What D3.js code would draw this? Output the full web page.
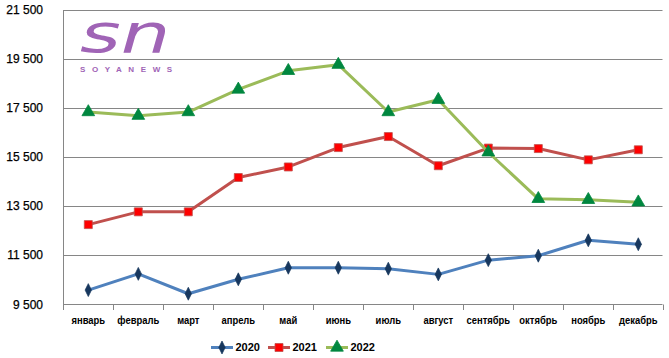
<!DOCTYPE html>
<html><head><meta charset="utf-8">
<script src="https://cdn.jsdelivr.net/npm/d3@7/dist/d3.min.js"></script>
<style>body{margin:0;background:#fff}svg{display:block}</style>
</head><body>
<script>
const months = ["январь","февраль","март","апрель","май","июнь","июль","август","сентябрь","октябрь","ноябрь","декабрь"];
const series2020 = [10080,10740,9930,10520,10990,10990,10950,10720,11300,11480,12110,11950];
const series2021 = [12750,13270,13270,14670,15100,15890,16340,15150,15870,15850,15390,15800];
const series2022 = [17340,17190,17340,18260,19020,19270,17340,17840,15700,13800,13760,13660];
const yTicks = [9500,11500,13500,15500,17500,19500,21500];
const seriesNames = ["2020","2021","2022"];

const W=669,H=358;
const svg=d3.select("body").append("svg").attr("width",W).attr("height",H);
const x=d3.scaleBand().domain(months).range([63.3,663.3]);
const y=d3.scaleLinear().domain([9500,21500]).range([304.3,10]);
const fmt=v=>d3.format(",")(v).replace(",", " ");

// gridlines
svg.append("g").selectAll("line").data(yTicks).join("line")
 .attr("x1",63).attr("x2",662.5).attr("y1",d=>Math.round(y(d))+0.5).attr("y2",d=>Math.round(y(d))+0.5)
 .attr("stroke","#868686").attr("stroke-width",1);
// left axis line
svg.append("line").attr("x1",63.5).attr("x2",63.5).attr("y1",10).attr("y2",305).attr("stroke","#868686");
// y labels
svg.append("g").selectAll("text").data(yTicks).join("text")
 .attr("x",43).attr("y",d=>y(d)).attr("dy","0.35em").attr("text-anchor","end")
 .attr("font-family","Liberation Sans, Arial, sans-serif").attr("font-size",12).attr("fill","#000")
 .attr("stroke","#000").attr("stroke-width",0.25)
 .text(fmt);
// x ticks
const bounds=d3.range(13).map(i=>63.3+i*x.bandwidth());
svg.append("g").selectAll("line").data(bounds).join("line")
 .attr("x1",d=>Math.round(d)+0.5).attr("x2",d=>Math.round(d)+0.5).attr("y1",304.5).attr("y2",310)
 .attr("stroke","#868686");
// x labels (condensed)
svg.append("g").selectAll("text").data(months).join("text")
 .attr("transform",d=>`translate(${x(d)+x.bandwidth()/2},320) scale(0.82,1)`)
 .attr("dy","0.35em").attr("text-anchor","middle")
 .attr("font-family","Liberation Sans, Arial, sans-serif").attr("font-weight","bold")
 .attr("font-size",11.5).attr("fill","#000").text(d=>d);

// logo
const logo=svg.append("g").attr("fill","#a064b6");
logo.append("text").attr("transform","translate(80,52) scale(1.45,1)")
 .attr("font-family","DejaVu Sans, sans-serif").attr("font-style","italic")
 .attr("font-size",54).text("sn");
logo.append("text").attr("x",80).attr("y",72).attr("font-family","Liberation Sans, Arial, sans-serif")
 .attr("font-weight","bold").attr("font-size",8).attr("letter-spacing",6.6).text("SOYANEWS");

// series
const lineGen=d3.line().x((d,i)=>x(months[i])+x.bandwidth()/2).y(d=>y(d));
const cfg=[
 {data:series2020,line:"#4f81bd",fill:"#17375e",stroke:"#17375e",sym:d3.symbolDiamond,size:48},
 {data:series2021,line:"#c0504d",fill:"#ff0000",stroke:"#c0504d",sym:d3.symbolSquare,size:64},
 {data:series2022,line:"#9bbb59",fill:"#00873f",stroke:"#00873f",sym:d3.symbolTriangle,size:70}
];
cfg.forEach(c=>{
 svg.append("path").datum(c.data).attr("d",lineGen).attr("fill","none").attr("stroke",c.line).attr("stroke-width",3).attr("stroke-linejoin","round");
 svg.append("g").selectAll("path").data(c.data).join("path")
  .attr("transform",(d,i)=>`translate(${x(months[i])+x.bandwidth()/2},${y(d)})`+(c.sym===d3.symbolDiamond?" scale(0.85,1)":""))
  .attr("d",d3.symbol().type(c.sym).size(c.size)).attr("fill",c.fill).attr("stroke",c.stroke).attr("stroke-width",0.8);
});

// legend
const lx=[211,268,326];
const lg=svg.append("g");
cfg.forEach((c,i)=>{
 const g=lg.append("g").attr("transform",`translate(${lx[i]},347.5)`);
 g.append("line").attr("x1",0).attr("x2",22).attr("stroke",c.line).attr("stroke-width",3);
 g.append("path").attr("transform","translate(11,0)"+(c.sym===d3.symbolDiamond?" scale(0.85,1)":""))
  .attr("d",d3.symbol().type(c.sym).size(c.size)).attr("fill",c.fill).attr("stroke",c.stroke).attr("stroke-width",0.8);
 g.append("text").attr("x",24.5).attr("y",0).attr("dy","0.35em").attr("font-family","Liberation Sans, Arial, sans-serif")
  .attr("font-weight","bold").attr("font-size",11).attr("fill","#000").text(seriesNames[i]);
});
</script>
</body></html>
